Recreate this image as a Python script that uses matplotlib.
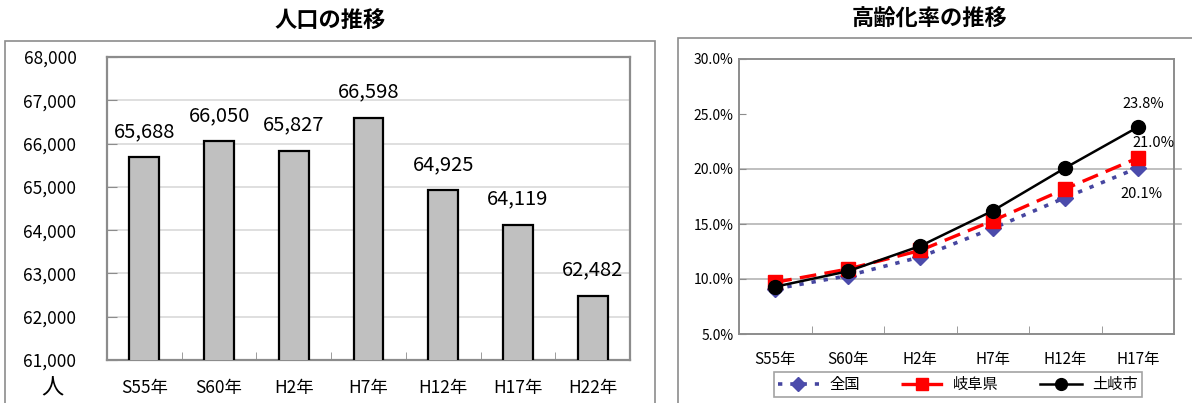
import matplotlib
matplotlib.use("Agg")
import matplotlib.pyplot as plt
from matplotlib.patches import Rectangle
from matplotlib.ticker import FuncFormatter

plt.rcParams['font.family'] = ['Noto Sans CJK JP', 'DejaVu Sans']

# 人口の推移
pop_years = ["S55年", "S60年", "H2年", "H7年", "H12年", "H17年", "H22年"]
population = [65688, 66050, 65827, 66598, 64925, 64119, 62482]

# 高齢化率の推移
aging_years = ["S55年", "S60年", "H2年", "H7年", "H12年", "H17年"]
zenkoku = [9.1, 10.3, 12.0, 14.6, 17.4, 20.1]
gifu = [9.7, 10.9, 12.6, 15.3, 18.2, 21.0]
toki = [9.3, 10.7, 13.0, 16.2, 20.1, 23.8]
grid_levels = [10, 15, 20]

W, H = 1192, 403
fig = plt.figure(figsize=(W / 100, H / 100), dpi=100)

def fx(px):
    return px / W

def fy(py):
    return 1 - py / H

# outer frames of the two chart boxes
fig.add_artist(Rectangle((fx(5), -0.05), fx(650), fy(41) + 0.05, transform=fig.transFigure,
                         fill=False, edgecolor="#8c8c8c", lw=1.2))
fig.add_artist(Rectangle((fx(678), -0.05), fx(600), fy(38) + 0.05, transform=fig.transFigure,
                         fill=False, edgecolor="#8c8c8c", lw=1.2))

# ---- left: population bars
ax1 = fig.add_axes([fx(107), fy(360), fx(630 - 107), (360 - 57) / H])
x1 = list(range(len(pop_years)))
ax1.bar(x1, population, width=0.4, color="#c0c0c0", edgecolor="black", linewidth=1.6, zorder=3)
for xi, v in zip(x1, population):
    ax1.annotate(f"{v:,}", (xi, v), xytext=(0, 11), textcoords="offset points",
                 ha="center", va="bottom", fontsize=14.5)
ax1.set_ylim(61000, 68000)
ax1.set_xlim(-0.5, len(pop_years) - 0.5)
ax1.set_yticks(range(61000, 68001, 1000))
ax1.yaxis.set_major_formatter(FuncFormatter(lambda v, p: f"{int(v):,}"))
ax1.set_xticks(x1)
ax1.set_xticklabels(pop_years)
ax1.set_xticks([i + 0.5 for i in x1[:-1]], minor=True)
ax1.tick_params(axis="x", which="major", length=0, pad=14, labelsize=12.5)
ax1.tick_params(axis="x", which="minor", direction="in", length=6, color="#8c8c8c")
ax1.tick_params(axis="y", direction="in", length=7, color="#8c8c8c", pad=22, labelsize=12.5)
ax1.grid(axis="y", color="#d9d9d9", lw=1.2, zorder=0)
for s in ax1.spines.values():
    s.set_color("#8c8c8c")
    s.set_linewidth(1.6)
fig.text(fx(52), fy(388), "人", ha="center", va="center", fontsize=16)
fig.text(fx(330), fy(21), "人口の推移", ha="center", va="center", fontsize=16, fontweight="bold")

# ---- right: aging rate lines
ax2 = fig.add_axes([fx(739), fy(334), fx(1174 - 739), (334 - 59) / H])
x2 = list(range(len(aging_years)))
for g in grid_levels:
    ax2.axhline(g, xmin=0, xmax=1.015, color="#b4b4b4", lw=1.2, zorder=0, clip_on=False)
ax2.plot(x2, zenkoku, color="#4646a0", linestyle=(0, (1.2, 2.2)), lw=2.6, marker="D",
         markersize=8, markerfacecolor="#4b4bab", markeredgecolor="#4b4bab", label="全国", zorder=3)
ax2.plot(x2, gifu, color="#ff0000", linestyle=(0, (5, 2.5)), lw=2.4, marker="s",
         markersize=10, label="岐阜県", zorder=4)
ax2.plot(x2, toki, color="black", linestyle="-", lw=1.8, marker="o",
         markersize=10, label="土岐市", zorder=5)
ax2.annotate(f"{toki[-1]:.1f}%", (x2[-1], toki[-1]), xytext=(4, 17), textcoords="offset points",
             ha="center", va="center", fontsize=10.5)
ax2.annotate(f"{gifu[-1]:.1f}%", (x2[-1], gifu[-1]), xytext=(11, 11), textcoords="offset points",
             ha="center", va="center", fontsize=10.5)
ax2.annotate(f"{zenkoku[-1]:.1f}%", (x2[-1], zenkoku[-1]), xytext=(3, -19), textcoords="offset points",
             ha="center", va="center", fontsize=10.5)
ax2.set_ylim(5, 30)
ax2.set_xlim(-0.5, len(aging_years) - 0.5)
ax2.set_yticks(range(5, 31, 5))
ax2.yaxis.set_major_formatter(FuncFormatter(lambda v, p: f"{v:.1f}%"))
ax2.set_xticks(x2)
ax2.set_xticklabels(aging_years)
ax2.set_xticks([i + 0.5 for i in x2[:-1]], minor=True)
ax2.tick_params(axis="x", which="major", length=0, pad=12, labelsize=11)
ax2.tick_params(axis="x", which="minor", direction="in", length=6, color="#8c8c8c")
ax2.tick_params(axis="y", direction="in", length=5, color="#8c8c8c", pad=4, labelsize=10)
for s in ax2.spines.values():
    s.set_color("#8c8c8c")
    s.set_linewidth(1.4)
leg = ax2.legend(loc="center", bbox_to_anchor=(0.503, -0.184), ncol=3, fontsize=11,
                 frameon=True, fancybox=False, edgecolor="#8c8c8c", handlelength=2.7,
                 columnspacing=2.7, borderpad=0.25, handletextpad=0.7, borderaxespad=0,
                 markerscale=0.85)
leg.get_frame().set_linewidth(1.2)
fig.text(fx(930), fy(19), "高齢化率の推移", ha="center", va="center", fontsize=16, fontweight="bold")

fig.savefig("out.png", dpi=100)
